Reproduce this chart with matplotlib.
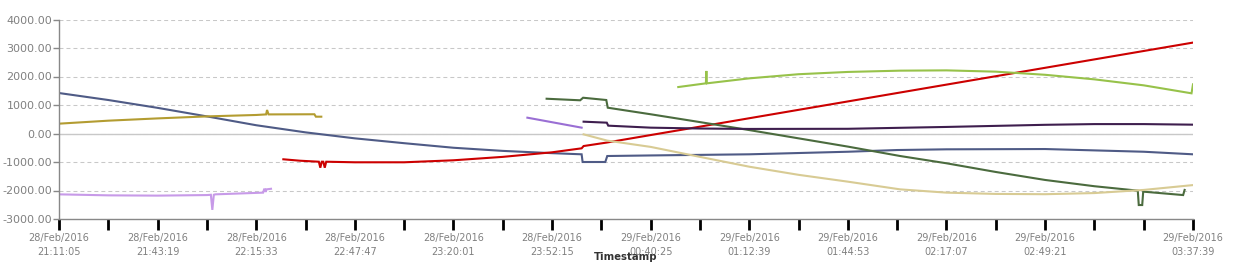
import matplotlib.pyplot as plt
from matplotlib.ticker import FormatStrFormatter

# x positions are in category-tick units (0 .. 23), y in data units
tick_labels = {
    0: "28/Feb/2016\n21:11:05",
    2: "28/Feb/2016\n21:43:19",
    4: "28/Feb/2016\n22:15:33",
    6: "28/Feb/2016\n22:47:47",
    8: "28/Feb/2016\n23:20:01",
    10: "28/Feb/2016\n23:52:15",
    12: "29/Feb/2016\n00:40:25",
    14: "29/Feb/2016\n01:12:39",
    16: "29/Feb/2016\n01:44:53",
    18: "29/Feb/2016\n02:17:07",
    20: "29/Feb/2016\n02:49:21",
    23: "29/Feb/2016\n03:37:39",
}

navy_x = [0, 1, 2, 3, 4, 5, 6, 7, 8, 9, 10, 10.6, 10.62, 11.08, 11.12, 12, 14, 16, 17, 18, 20, 22, 23]
navy_y = [1420, 1175, 900, 600, 290, 40, -170, -340, -500, -610, -690, -730, -1000, -1000, -790,
          -770, -730, -640, -580, -555, -545, -640, -730]

olive_x = [0, 1, 2, 3, 4, 4.2, 4.22, 4.25, 5.18, 5.21, 5.32]
olive_y = [345, 450, 530, 600, 650, 670, 825, 670, 675, 590, 590]

lavender_x = [0, 1, 2, 3, 3.08, 3.11, 3.14, 3.17, 4.14, 4.16, 4.18, 4.19, 4.21, 4.30]
lavender_y = [-2135, -2170, -2180, -2160, -2150, -2680, -2150, -2135, -2075, -1960, -1960, -2050,
              -1960, -1940]

red_x = [4.55, 4.89, 5.27, 5.30, 5.33, 5.36, 5.39, 5.42, 6, 7, 8, 9, 10, 10.6, 10.64, 11.1, 23]
red_y = [-905, -955, -990, -1200, -990, -990, -1200, -990, -1010, -1010, -940, -820, -660, -520,
         -440, -320, 3190]

dkgreen_x = [9.89, 10.57, 10.63, 11.10, 11.13, 12, 13, 14, 15, 16, 17.06, 18, 19, 20, 21, 21.88,
             21.90, 21.97, 21.99, 22.8, 22.83]
dkgreen_y = [1220, 1165, 1255, 1175, 905, 675, 400, 120, -170, -460, -790, -1045, -1350, -1630,
             -1850, -2005, -2510, -2510, -2040, -2160, -1980]

dkpurple_x = [10.64, 11.11, 11.14, 12, 13, 14, 16, 17.06, 18, 20, 21, 22, 23]
dkpurple_y = [415, 380, 275, 205, 175, 160, 165, 200, 230, 305, 330, 330, 310]

purple_x = [9.50, 10.60]
purple_y = [555, 205]

beige_x = [10.64, 11.12, 12, 13, 14, 15, 16, 17.06, 18, 19, 20, 21, 22, 23]
beige_y = [-30, -250, -470, -820, -1165, -1450, -1690, -1960, -2075, -2120, -2130, -2090, -1980,
           -1810]

ltgreen_x = [12.56, 13.12, 13.13, 13.14, 14, 15, 16, 17.06, 18, 19, 20, 21, 22, 22.97, 23]
ltgreen_y = [1630, 1760, 2195, 1760, 1935, 2080, 2160, 2205, 2215, 2170, 2060, 1900, 1690, 1410,
             1725]

series = [
    (navy_x, navy_y, "#4f5b86"),
    (olive_x, olive_y, "#b39c31"),
    (lavender_x, lavender_y, "#c79ae8"),
    (red_x, red_y, "#cc0000"),
    (dkgreen_x, dkgreen_y, "#4b6b3e"),
    (dkpurple_x, dkpurple_y, "#3e1e4e"),
    (purple_x, purple_y, "#9a6fd4"),
    (beige_x, beige_y, "#d8cb94"),
    (ltgreen_x, ltgreen_y, "#97c24a"),
]

fig = plt.figure(figsize=(12.38, 2.79), dpi=100)
ax = fig.add_axes([59 / 1238, 1 - 219 / 279, (1193 - 59) / 1238, (219 - 19.5) / 279])

for xs, ys, c in series:
    ax.plot(xs, ys, color=c, lw=1.5, solid_joinstyle="miter")

ax.set_xlim(0, 23)
ax.set_ylim(-3000, 4000)
ax.set_axisbelow(True)
ax.yaxis.grid(True, linestyle=(0, (3.8, 2.9)), color="#c8c8c8", lw=0.75)
ax.axhline(0, color="#c8c8c8", lw=1, zorder=0.5)

ax.set_yticks(range(-3000, 4001, 1000))
ax.yaxis.set_major_formatter(FormatStrFormatter("%.2f"))
ax.set_xticks(range(24))
ax.set_xticklabels([tick_labels.get(i, "") for i in range(24)], linespacing=1.55)

ax.tick_params(axis="x", direction="out", length=8, width=2, color="black",
               labelsize=7, labelcolor="#808080", pad=2)
ax.tick_params(axis="y", direction="out", length=4, width=1, color="#888888",
               labelsize=8, labelcolor="#808080", pad=1)

for s in ["top", "right"]:
    ax.spines[s].set_visible(False)
for s in ["left", "bottom"]:
    ax.spines[s].set_color("#888888")
    ax.spines[s].set_linewidth(1)

fig.text(626 / 1238, 1 - 256.5 / 279, "Timestamp", ha="center", va="center",
         fontsize=7.3, fontweight="bold", color="#333333")

plt.savefig("out.png", dpi=100)
